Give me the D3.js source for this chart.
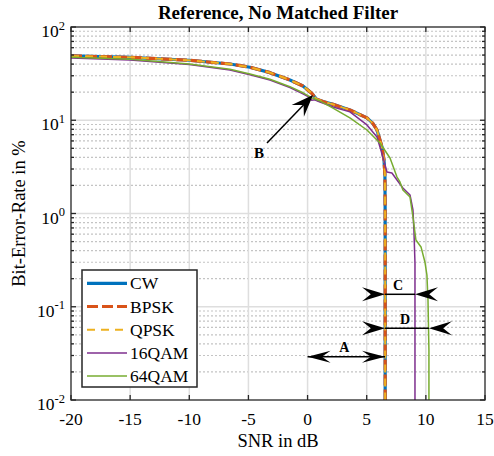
<!DOCTYPE html>
<html>
<head>
<meta charset="utf-8">
<script src="https://cdn.jsdelivr.net/npm/d3@7"></script>
<style>
  html, body { margin: 0; padding: 0; background: #fff; }
</style>
</head>
<body>
<svg id="chart" width="494" height="456" font-family="'Liberation Serif', 'Times New Roman', Times, serif"></svg>
<script>
// ---------------- DATA ----------------
const title = "Reference, No Matched Filter";
const xLabel = "SNR in dB";
const yLabel = "Bit-Error-Rate in %";

const xTickValues = [-20, -15, -10, -5, 0, 5, 10, 15];
const xTickLabels = ["-20", "-15", "-10", "-5", "0", "5", "10", "15"];
const yTickValues = [0.01, 0.1, 1, 10, 100];
const yTickExponents = ["-2", "-1", "0", "1", "2"];

const seriesNames = ["CW", "BPSK", "QPSK", "16QAM", "64QAM"];

// CW / BPSK / QPSK curves overlap in the picture
const snrCW = [-20, -15, -10, -6.56, -4.87, -3.18, -1.49, -0.39, 0.35, 0.77, 1.3, 2.15, 3.58, 5.02, 5.5, 5.87, 6.29, 6.46, 6.54, 6.56, 6.56];
const berCW = [48.9, 47.3, 44.0, 40.1, 37.0, 32.4, 27.0, 23.3, 19.5, 16.8, 15.9, 14.8, 12.9, 10.6, 9.3, 7.86, 5.16, 3.75, 2.59, 1.0, 0.005];
const snrBPSK = snrCW;
const berBPSK = berCW;
const snrQPSK = snrCW;
const berQPSK = berCW;

const snr16QAM = [-20, -15, -10, -6.56, -4.87, -3.18, -1.49, -0.39, 0.2, 0.35, 0.6, 1.05, 2.15, 3.58, 5.02, 5.87, 6.37, 6.71, 7.13, 7.56, 8.06, 8.66, 8.91, 8.99, 9.08, 9.08];
const ber16QAM = [46.5, 44.3, 39.5, 34.6, 30.8, 27.0, 22.4, 19.2, 17.5, 16.4, 16.6, 15.7, 13.9, 12.3, 8.9, 6.6, 4.04, 2.79, 2.72, 2.29, 1.88, 1.58, 1.09, 0.665, 0.294, 0.005];

const snr64QAM = [-20, -15, -10, -6.56, -4.87, -3.18, -1.49, -0.39, 0.46, 1.0, 2.15, 3.58, 5.02, 6.12, 6.97, 7.56, 7.81, 8.06, 8.66, 8.91, 9.16, 9.59, 9.92, 10.09, 10.18, 10.26, 10.26];
const ber64QAM = [47.3, 45.1, 40.0, 35.2, 31.3, 27.5, 22.9, 19.7, 17.2, 16.2, 13.5, 10.6, 7.86, 5.70, 3.94, 2.46, 2.18, 1.79, 1.50, 0.917, 0.52, 0.438, 0.302, 0.219, 0.118, 0.0344, 0.005];

// annotations (data units)
const annLabels = ["A", "C", "D"];
const annXFrom = [0, 6.55, 6.55];
const annXTo = [6.55, 9.08, 10.26];
const annY = [0.0291, 0.136, 0.0587];
const annInward = [false, true, true];
const arrowBLabel = "B";
const arrowBFrom = [-3.43, 5.70];
const arrowBTo = [0.46, 18.6];

// ---------------- STYLE ----------------
const FONT = "'Liberation Serif', 'Times New Roman', Times, serif";
const colors = ["#0072BD", "#D95319", "#EDB120", "#7E2F8E", "#77AC30"];
const widths = [3.2, 3.2, 2, 1.5, 1.5];
const dashes = [null, "11,4", "8,6", null, null];

const L = 71, R = 485, T = 27, B = 400;
const svg = d3.select("#chart");
svg.append("rect").attr("width", 494).attr("height", 456).attr("fill", "#fff");

const x = d3.scaleLinear().domain([-20, 15]).range([L, R]);
const y = d3.scaleLog().domain([0.01, 100]).range([B, T]);

// grid
const grid = svg.append("g");
const minorVals = [];
[0.01, 0.1, 1, 10].forEach(d => { for (let k = 2; k <= 9; k++) minorVals.push(d * k); });
grid.selectAll("line.minor").data(minorVals).enter().append("line")
  .attr("x1", L).attr("x2", R)
  .attr("y1", d => y(d)).attr("y2", d => y(d))
  .attr("stroke", "#c4c4c4").attr("stroke-width", 1.2).attr("stroke-dasharray", "2,2");
grid.selectAll("line.majx").data(xTickValues.slice(1, -1)).enter().append("line")
  .attr("x1", d => x(d)).attr("x2", d => x(d))
  .attr("y1", T).attr("y2", B)
  .attr("stroke", "#dedede").attr("stroke-width", 1.5);
grid.selectAll("line.majy").data(yTickValues.slice(1, -1)).enter().append("line")
  .attr("x1", L).attr("x2", R)
  .attr("y1", d => y(d)).attr("y2", d => y(d))
  .attr("stroke", "#dedede").attr("stroke-width", 1.5);

// clip
svg.append("clipPath").attr("id", "clip").append("rect")
  .attr("x", L).attr("y", T).attr("width", R - L).attr("height", B - T);

const series = [
  { s: snrCW, b: berCW },
  { s: snrBPSK, b: berBPSK },
  { s: snrQPSK, b: berQPSK },
  { s: snr16QAM, b: ber16QAM },
  { s: snr64QAM, b: ber64QAM }
];
const line = d3.line().x(d => x(d[0])).y(d => y(d[1]));
const plot = svg.append("g").attr("clip-path", "url(#clip)");
series.forEach((sr, i) => {
  const pts = sr.s.map((v, j) => [v, sr.b[j]]);
  plot.append("path").datum(pts)
    .attr("d", line)
    .attr("fill", "none")
    .attr("stroke", colors[i])
    .attr("stroke-width", widths[i])
    .attr("stroke-dasharray", dashes[i])
    .attr("stroke-linejoin", "round");
});

// axes box & ticks (inside, both sides)
const ax = svg.append("g").attr("stroke", "#262626").attr("stroke-width", 1.3);
ax.append("rect").attr("x", L).attr("y", T).attr("width", R - L).attr("height", B - T).attr("fill", "none");
xTickValues.forEach(v => {
  ax.append("line").attr("x1", x(v)).attr("x2", x(v)).attr("y1", B).attr("y2", B - 5);
  ax.append("line").attr("x1", x(v)).attr("x2", x(v)).attr("y1", T).attr("y2", T + 5);
});
yTickValues.forEach(v => {
  ax.append("line").attr("x1", L).attr("x2", L + 5).attr("y1", y(v)).attr("y2", y(v));
  ax.append("line").attr("x1", R).attr("x2", R - 5).attr("y1", y(v)).attr("y2", y(v));
});
minorVals.forEach(v => {
  ax.append("line").attr("x1", L).attr("x2", L + 3).attr("y1", y(v)).attr("y2", y(v));
  ax.append("line").attr("x1", R).attr("x2", R - 3).attr("y1", y(v)).attr("y2", y(v));
});

// tick labels
svg.append("g").selectAll("text").data(xTickValues).enter().append("text")
  .attr("font-family", FONT)
  .attr("x", d => x(d)).attr("y", 425)
  .attr("text-anchor", "middle").attr("font-size", 17.5)
  .text((d, i) => xTickLabels[i]);
const yl = svg.append("g").selectAll("text").data(yTickValues).enter().append("text")
  .attr("font-family", FONT)
  .attr("x", 65).attr("y", d => y(d) + 10)
  .attr("text-anchor", "end").attr("font-size", 17.5);
yl.append("tspan").text("10");
yl.append("tspan").attr("dy", -7.5).attr("font-size", 12.5).text((d, i) => yTickExponents[i]);

// labels
svg.append("text").attr("font-family", FONT).attr("x", (L + R) / 2).attr("y", 447).attr("text-anchor", "middle")
  .attr("font-size", 18.5).text(xLabel);
svg.append("text").attr("font-family", FONT).attr("transform", `translate(25,${(T + B) / 2}) rotate(-90)`)
  .attr("text-anchor", "middle").attr("font-size", 18.5).text(yLabel);
svg.append("text").attr("font-family", FONT).attr("x", (L + R) / 2).attr("y", 19).attr("text-anchor", "middle")
  .attr("font-size", 19).attr("font-weight", "bold").text(title);

// arrow helper
function head(g, tx, ty, dx, dy, len, wid) {
  const n = Math.hypot(dx, dy); dx /= n; dy /= n;
  const px = -dy, py = dx;
  const bx = tx - dx * len, by = ty - dy * len;
  const nx = tx - dx * len * 0.62, ny = ty - dy * len * 0.62;
  g.append("path").attr("d",
    `M${tx},${ty}L${bx + px * wid / 2},${by + py * wid / 2}L${nx},${ny}L${bx - px * wid / 2},${by - py * wid / 2}Z`)
    .attr("fill", "#000").attr("stroke", "none");
}

const ann = svg.append("g");
annLabels.forEach((lab, i) => {
  const x1 = x(annXFrom[i]), x2 = x(annXTo[i]), yy = y(annY[i]);
  ann.append("line").attr("x1", x1).attr("x2", x2).attr("y1", yy).attr("y2", yy)
    .attr("stroke", "#000").attr("stroke-width", 1.5);
  if (annInward[i]) {
    head(ann, x1, yy, 1, 0, 23, 14);
    head(ann, x2, yy, -1, 0, 23, 14);
  } else {
    head(ann, x1, yy, -1, 0, 23, 12);
    head(ann, x2, yy, 1, 0, 23, 12);
  }
  ann.append("text").attr("font-family", FONT).attr("x", (x1 + x2) / 2 - 2).attr("y", yy - 4.5)
    .attr("text-anchor", "middle").attr("font-size", 14).attr("font-weight", "bold").text(lab);
});
{
  const fx = x(arrowBFrom[0]), fy = y(arrowBFrom[1]);
  const tx = x(arrowBTo[0]), ty = y(arrowBTo[1]);
  const dx = tx - fx, dy = ty - fy, n = Math.hypot(dx, dy);
  ann.append("line").attr("x1", fx).attr("y1", fy)
    .attr("x2", tx - dx / n * 12).attr("y2", ty - dy / n * 12)
    .attr("stroke", "#000").attr("stroke-width", 1.5);
  head(ann, tx, ty, dx, dy, 22, 17);
  ann.append("text").attr("font-family", FONT).attr("x", fx - 8).attr("y", fy + 15)
    .attr("text-anchor", "middle").attr("font-size", 15).attr("font-weight", "bold").text(arrowBLabel);
}

// legend
const lg = svg.append("g");
lg.append("rect").attr("x", 82).attr("y", 270).attr("width", 115).attr("height", 117)
  .attr("fill", "#fff").attr("stroke", "#262626").attr("stroke-width", 1.5);
seriesNames.forEach((nm, i) => {
  const yy = 283.3 + i * 23.2;
  lg.append("line").attr("x1", 87).attr("x2", 127).attr("y1", yy).attr("y2", yy)
    .attr("stroke", colors[i]).attr("stroke-width", widths[i])
    .attr("stroke-dasharray", dashes[i]);
  lg.append("text").attr("font-family", FONT).attr("x", 130).attr("y", yy + 6).attr("font-size", 17.5).text(nm);
});
</script>
</body>
</html>
